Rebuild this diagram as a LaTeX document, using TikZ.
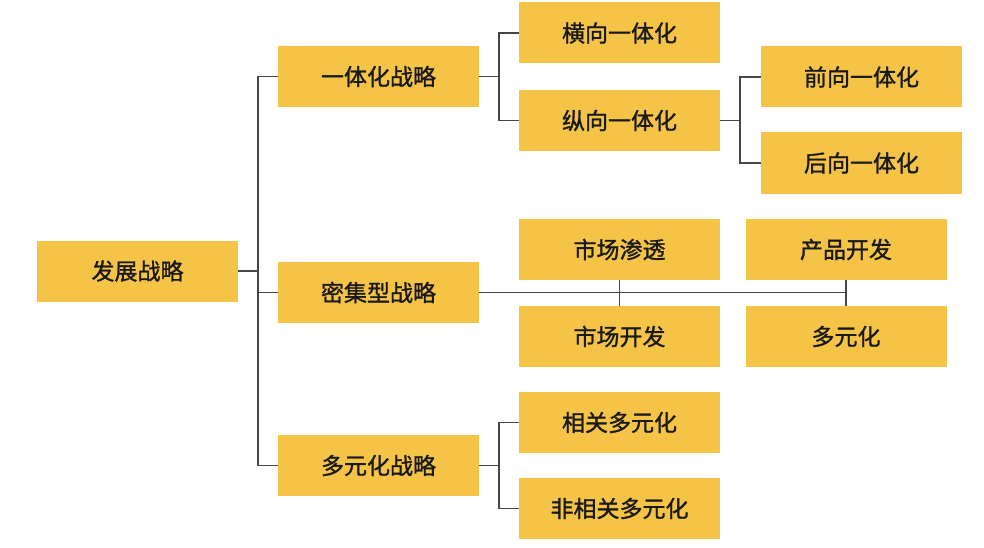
\documentclass[tikz,border=0pt]{standalone}
\usepackage{fontspec}
\setmainfont{Noto Sans CJK SC}[FakeBold=1.2]
\usepackage{tikz}
\usetikzlibrary{positioning, calc}
\definecolor{boxfill}{RGB}{245,196,70}
\definecolor{linegray}{RGB}{70,70,70}

\begin{document}
\begin{tikzpicture}[
  x=1pt, y=-1pt,
  every node/.style={font=\fontsize{23}{27}\selectfont, text=black!90},
  box/.style={rectangle, fill=boxfill, minimum width=201pt, minimum height=61pt, inner sep=0pt},
  link/.style={draw=linegray, line width=1.8pt},
]
  \useasboundingbox (0,0) rectangle (984,548);

  \node[box] (root) at (137.5,271) {发展战略};

  \node[box] (ytz) at (378.5,76.5) {一体化战略};
  \node[box] (mjx) at (378.5,292.5) {密集型战略};
  \node[box] (dyz) at (378.5,465.5) {多元化战略};

  \node[box] (hx) at (619.5,33) {横向一体化};
  \node[box] (zx) at (619.5,120.5) {纵向一体化};
  \node[box] (qx) at (861.5,77) {前向一体化};
  \node[box] (hxh) at (861.5,163) {后向一体化};

  \node[box] (scst) at (619.5,249.5) {市场渗透};
  \node[box] (scfz) at (619.5,336.5) {市场开发};
  \node[box] (cpkf) at (846,249.5) {产品开发};
  \node[box] (dyh) at (846,336.5) {多元化};

  \node[box] (xg) at (619.5,422.5) {相关多元化};
  \node[box] (fxg) at (619.5,508.5) {非相关多元化};

  \draw[link] (root.east) -- ++(20,0);
  \draw[link] (ytz.west) -- ++(-20,0) |- (dyz.west);
  \draw[link] (mjx.west) -- ++(-20,0);

  \draw[link] (ytz.east) -- ++(20,0);
  \draw[link] (hx.west) -- ++(-20,0) |- (zx.west);
  \draw[link] (zx.east) -- ++(20,0);
  \draw[link] (qx.west) -- ++(-21,0) |- (hxh.west);

  \draw[link] (mjx.east) -- (mjx.east -| cpkf.south);
  \draw[link] (scst.south) -- (scfz.north);
  \draw[link] (cpkf.south) -- (dyh.north);

  \draw[link] (dyz.east) -- ++(20,0);
  \draw[link] (xg.west) -- ++(-20,0) |- (fxg.west);
\end{tikzpicture}
\end{document}
